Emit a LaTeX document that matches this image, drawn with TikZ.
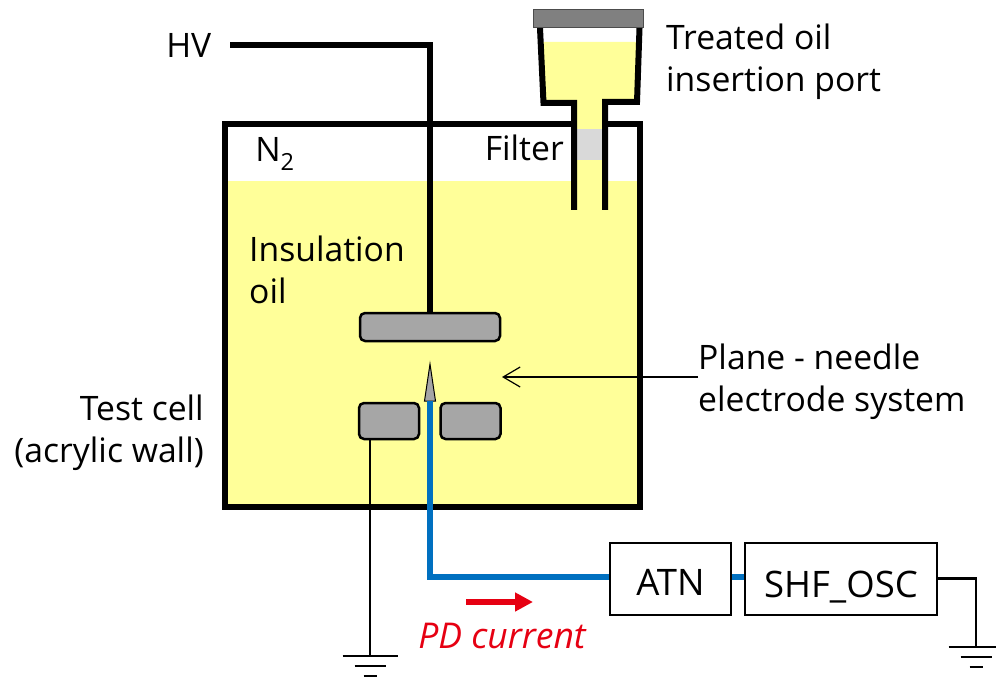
\documentclass[tikz,border=0pt]{standalone}
\usepackage{fontspec}
\setmainfont{Open Sans}
\usepackage{tikz}
\usetikzlibrary{arrows.meta,positioning}
\definecolor{oilyellow}{HTML}{FFFF99}
\definecolor{electrodegray}{HTML}{A6A6A6}
\definecolor{signalblue}{HTML}{0070C0}
\definecolor{pdred}{HTML}{E60012}
\tikzstyle{label}=[inner sep=0pt, font=\fontsize{33.7}{42}\selectfont]
\tikzstyle{wall}=[draw,black,line width=6pt]
\tikzstyle{signal}=[draw,signalblue,line width=6pt]
\tikzstyle{earthline}=[draw,black,line width=2.9pt]
\tikzstyle{electrode} =
  [rectangle, draw, line width=2.5pt, fill=electrodegray, rounded corners=5pt,
   minimum height=36pt, minimum width=60pt]
\tikzstyle{block} =
  [rectangle, draw, line width=2pt, minimum height=72pt, inner sep=0pt,
   font=\fontsize{36.5}{42}\selectfont]
\newcommand{\earthbars}[1]{
  \foreach \dy/\hw in {0/27.5,10/15.5,20/6.5}
    \draw [earthline] ([shift={(-\hw,\dy)}]#1) -- ([shift={(\hw,\dy)}]#1);
}

\begin{document}
\begin{tikzpicture}[x=1pt,y=-1pt]
  \useasboundingbox (0,0) rectangle (996,679);
  \clip (0,0) rectangle (996,679);

  % oil and filter
  \fill [oilyellow] (225,181) rectangle (639,507);
  \fill [oilyellow] (543,42) -- (637,42) -- (635,102) -- (605,102) -- (605,210)
    -- (574,210) -- (574,103) -- (546,103) -- cycle;
  \fill [white] (577,120) rectangle (602,181);
  \fill [oilyellow] (577,103) rectangle (602,129);
  \fill [oilyellow] (577,160) rectangle (602,210);
  \fill [black!15] (577,129) rectangle (602,160);

  % test cell and funnel
  \draw [wall] (574,124) -- (225,124) -- (225,507) -- (639.5,507) -- (639.5,124) -- (605,124);
  \draw [wall] (540,28) -- (543.5,103) -- (574,103) -- (574,210);
  \draw [wall] (639.5,28) -- (637,102) -- (605,102) -- (605,210);
  \node [rectangle, draw=black!70, line width=1pt, fill=black!50, minimum width=110pt,
    minimum height=18pt] (lid) at (588.5,18.5) {};

  % electrodes
  \node [electrode, minimum width=140pt, minimum height=28pt] (plane) at (430,327) {};
  \node [electrode] (lowleft) at (389,421) {};
  \node [electrode, right of=lowleft, node distance=81.5pt] (lowright) {};
  \coordinate (needle) at (430,401);
  \draw [line width=1pt,fill=electrodegray] (424.5,401) -- (430,364) -- (435.5,401) -- cycle;

  % labels
  \node [label, anchor=east, inner xsep=18.5pt] (hv) at (230,45) {HV};
  \node [label, anchor=west, align=left] (port) at (666,62) {Treated oil\\insertion port};
  \node [label] (nitrogen) at (275,154) {N\textsubscript{2}};
  \node [label, anchor=east] (filter) at (564,148) {Filter};
  \node [label, anchor=west, align=left] (oil) at (249,270) {Insulation\\oil};
  \node [label, anchor=east, align=right] (cell) at (204,433) {Test cell\\(acrylic wall)};
  \node [label, anchor=west, align=left] (system) at (698,382) {Plane - needle\\electrode system};
  \node [label, pdred, font=\itshape\fontsize{35.5}{42}\selectfont] (pd) at (502,636) {PD current};

  % measuring chain
  \node [block, minimum width=121pt] (atn) at (670.5,578.5) {\raisebox{-16.5pt}[0pt][0pt]{ATN}};
  \node [block, right of=atn, minimum width=192pt, node distance=170.5pt] (osc) {\raisebox{-19pt}[0pt][0pt]{SHF\_OSC}};

  \draw [wall] (hv.east) -| (plane.north);
  \draw [signal] (needle) |- ([yshift=1.5pt]atn.west);
  \draw [signal] ([yshift=1.5pt]atn.east) -- ([yshift=1.5pt]atn.east -| osc.west);
  \draw [-{Straight Barb[length=17pt,width=20pt]},black,line width=1.2pt] (system.west |- 0,377) -- (502,377);

  \coordinate (redtail) at (466,602);
  \coordinate (redtip) at (533,602);
  \draw [-{Triangle[length=18pt,width=18pt]},pdred,line width=6pt] (redtail) -- (redtip);

  % grounds
  \coordinate (gndcell) at (370,656);
  \coordinate (gndosc) at (976,647);
  \draw [earthline] (lowleft.south -| gndcell) -- (gndcell);
  \draw [earthline] (osc.east) -| (gndosc);
  \earthbars{gndcell}
  \earthbars{gndosc}
\end{tikzpicture}
\end{document}
